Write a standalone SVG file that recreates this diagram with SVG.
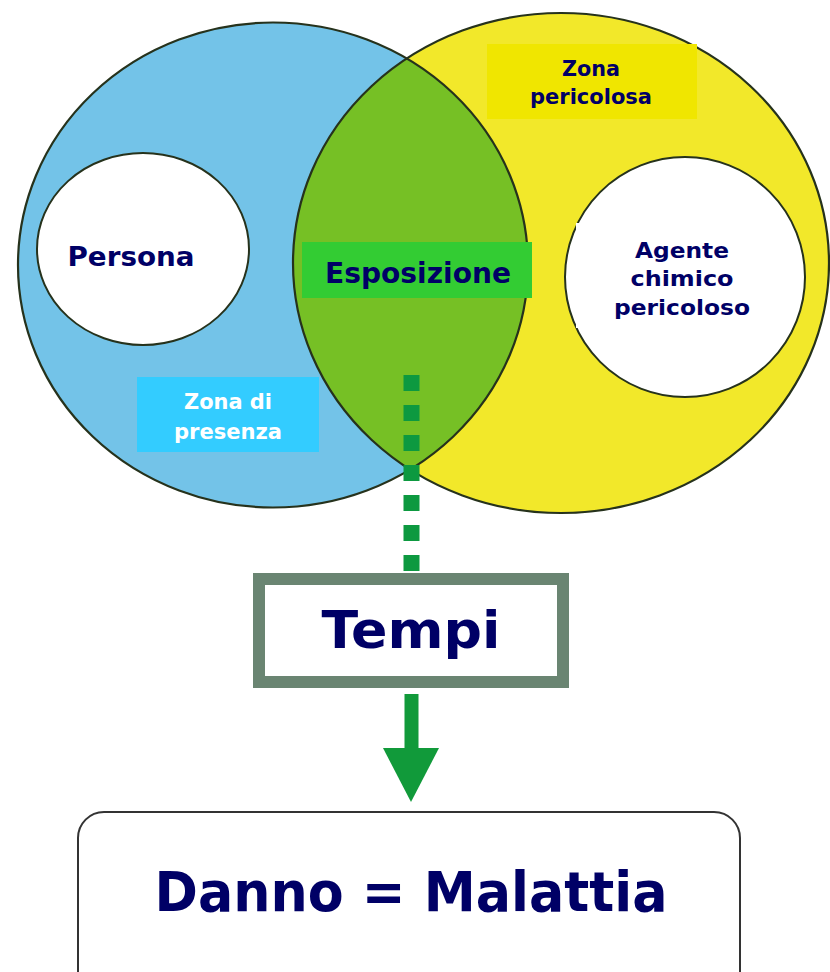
<svg xmlns="http://www.w3.org/2000/svg" width="830" height="972" viewBox="0 0 830 972">
<style>
.t{font-family:"DejaVu Sans","Liberation Sans",sans-serif;font-weight:bold;fill:#000066;text-anchor:middle}
.w{fill:#ffffff}
.edge{fill:none;stroke:#26321c;stroke-width:2.2}
</style>
<defs>
<clipPath id="blueClip"><ellipse cx="273" cy="265" rx="255" ry="242.5"/></clipPath>
</defs>
<rect width="830" height="972" fill="#ffffff"/>
<g id="zona-presenza">
<ellipse cx="273" cy="265" rx="255" ry="242.5" fill="#73c3e8"/>
</g>
<g id="zona-pericolosa">
<ellipse cx="561" cy="263" rx="268" ry="250" fill="#f2e82a"/>
</g>
<g id="esposizione">
<ellipse cx="561" cy="263" rx="268" ry="250" fill="#76c025" clip-path="url(#blueClip)"/>
</g>
<g id="outlines">
<ellipse class="edge" cx="273" cy="265" rx="255" ry="242.5"/>
<ellipse class="edge" cx="561" cy="263" rx="268" ry="250"/>
</g>
<g id="persona">
<ellipse cx="143" cy="249" rx="106" ry="96" fill="#ffffff" stroke="#26321c" stroke-width="2"/>
<text class="t" x="131" y="266" font-size="27" textLength="127" lengthAdjust="spacingAndGlyphs">Persona</text>
</g>
<g id="agente">
<ellipse cx="685" cy="277" rx="120" ry="120" fill="#ffffff" stroke="#26321c" stroke-width="2"/>
<rect x="576" y="223" width="180" height="105" fill="#ffffff"/>
<text class="t" x="682" y="258" font-size="22" textLength="94" lengthAdjust="spacingAndGlyphs">Agente</text>
<text class="t" x="682" y="286" font-size="22" textLength="103" lengthAdjust="spacingAndGlyphs">chimico</text>
<text class="t" x="682" y="315" font-size="22" textLength="136" lengthAdjust="spacingAndGlyphs">pericoloso</text>
</g>
<g id="label-esposizione">
<rect x="302" y="242" width="230" height="56" fill="#33cc33"/>
<text class="t" x="418" y="283" font-size="28" textLength="186" lengthAdjust="spacingAndGlyphs">Esposizione</text>
</g>
<g id="label-pericolosa">
<rect x="487" y="44" width="210" height="75" fill="#f0e600"/>
<text class="t" x="591" y="76" font-size="21" textLength="58" lengthAdjust="spacingAndGlyphs">Zona</text>
<text class="t" x="591" y="104" font-size="21" textLength="122" lengthAdjust="spacingAndGlyphs">pericolosa</text>
</g>
<g id="label-presenza">
<rect x="137" y="377" width="182" height="75" fill="#33ccff"/>
<text class="t w" x="228" y="409" font-size="21" textLength="88" lengthAdjust="spacingAndGlyphs">Zona di</text>
<text class="t w" x="228" y="439" font-size="21" textLength="108" lengthAdjust="spacingAndGlyphs">presenza</text>
</g>
<g id="connectors">
<line x1="411.5" y1="375" x2="411.5" y2="576" stroke="#0d9940" stroke-width="16" stroke-dasharray="16 14"/>
<rect x="404.5" y="694" width="14" height="58" fill="#119a3a"/>
<polygon points="383,748 439,748 411,802" fill="#119a3a"/>
</g>
<g id="tempi">
<rect x="259" y="579" width="304" height="103" fill="#ffffff" stroke="#6a8572" stroke-width="12"/>
<text class="t" x="411" y="648" font-size="52" textLength="179" lengthAdjust="spacingAndGlyphs">Tempi</text>
</g>
<g id="danno">
<rect x="78" y="812" width="662" height="190" rx="26" fill="#ffffff" stroke="#333333" stroke-width="2"/>
<text class="t" x="411" y="911" font-size="56" textLength="513" lengthAdjust="spacingAndGlyphs">Danno = Malattia</text>
</g>
</svg>
